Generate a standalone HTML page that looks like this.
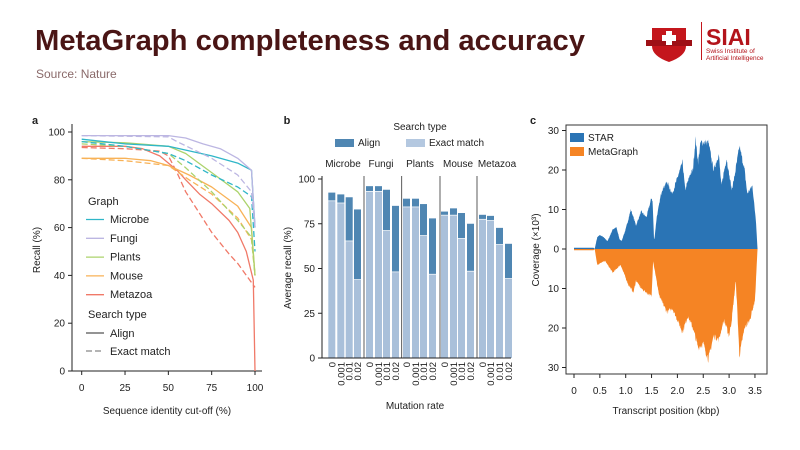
<!DOCTYPE html>
<html><head><meta charset="utf-8"><style>
html,body{margin:0;padding:0;background:#fff;width:800px;height:450px;overflow:hidden}
svg{display:block;font-family:"Liberation Sans",Arial,sans-serif}
</style></head><body>
<svg id="s" width="800" height="450" viewBox="0 0 800 450" xmlns="http://www.w3.org/2000/svg">
<text x="35" y="50" font-size="29" font-weight="bold" fill="#4a1515" textLength="550" lengthAdjust="spacingAndGlyphs">MetaGraph completeness and accuracy</text>
<text x="36" y="78" font-size="12" fill="#8a6a6a">Source: Nature</text>
<path d="M652 28 L686 28 L686 46 Q686 56 669 62 Q652 56 652 46 Z" fill="#c4161c"/>
<rect x="646" y="40" width="46" height="6" fill="#9e1016"/>
<rect x="666" y="31" width="6" height="14" fill="#fff"/><rect x="662" y="35" width="14" height="6" fill="#fff"/>
<rect x="701" y="22" width="1" height="38" fill="#c4161c"/>
<text x="706" y="45" font-size="23" font-weight="bold" fill="#b3141b">SIAI</text>
<text x="706" y="53" font-size="6.5" fill="#b3141b">Swiss Institute of</text>
<text x="706" y="60" font-size="6.5" fill="#b3141b">Artificial Intelligence</text>
<g id="g"></g>
</svg>
<script>
(function(){
var g=document.getElementById('g'),h='';
function T(x,y,t,o){o=o||{};h+='<text x="'+x+'" y="'+y+'" font-size="'+(o.fs||10)+'" fill="'+(o.c||'#222')+'" text-anchor="'+(o.a||'middle')+'"'+(o.tr?' transform="'+o.tr+'"':'')+(o.b?' font-weight="bold"':'')+'>'+t+'</text>';}
function L(x1,y1,x2,y2,c,w,d){h+='<line x1="'+x1+'" y1="'+y1+'" x2="'+x2+'" y2="'+y2+'" stroke="'+(c||'#222')+'" stroke-width="'+(w||1)+'"'+(d?' stroke-dasharray="'+d+'"':'')+'/>';}
// ---- panel a
T(35,124,'a',{b:1,fs:11});
var X=function(v){return 81.7+v*1.733},Y=function(r){return 371-r*2.39};
L(72,124,72,371);L(72,371,262,371);
[0,20,40,60,80,100].forEach(function(r){L(68,Y(r),72,Y(r));T(65,Y(r)+3.5,r,{a:'end'});});
[0,25,50,75,100].forEach(function(v){L(X(v),371,X(v),375);T(X(v),391,v);});
T(167,414,'Sequence identity cut-off (%)');
T(40,250,'Recall (%)',{tr:'rotate(-90 40 250)'});
var cols={Mi:'#2fb6c8',F:'#bcb6e2',P:'#acd36c',Mo:'#f8b257',Me:'#f07968'};
var cur=[
['Me',0,[[0,94],[25,94],[35,93],[45,90],[55,84],[60,80],[68,74],[75,70],[85,63],[90,58],[95,50],[99,38],[100,0]]],
['Me',1,[[0,93.5],[25,93],[45,92],[50,90],[55,83],[60,75],[68,66],[75,58],[85,49],[90,45],[100,35]]],
['Mo',0,[[0,89],[25,89],[40,88],[50,86],[62,82],[75,77],[90,69],[98,60],[100,40]]],
['Mo',1,[[0,89],[25,88],[50,86],[62,80],[75,74],[90,64],[98,55],[100,40]]],
['P',1,[[0,95],[25,94],[50,91],[60,85],[75,75],[90,63],[98,56],[100,40]]],
['P',0,[[0,96],[25,95.5],[50,94],[60,91],[75,83],[90,75],[97,68],[100,40]]],
['Mi',1,[[0,96],[25,94],[50,91],[60,88],[75,82],[90,77],[98,73],[100,50]]],
['Mi',0,[[0,97],[25,95],[50,94],[75,90],[90,87],[98,84],[100,60]]],
['F',1,[[0,98.5],[50,98],[55,96],[75,89],[90,82],[98,75],[100,60]]],
['F',0,[[0,98.5],[50,98.5],[60,97.5],[70,95],[80,93],[90,89],[98,84],[100,60]]]];
cur.forEach(function(c){var p=c[2].map(function(q){return X(q[0]).toFixed(1)+','+Y(q[1]).toFixed(1)}).join(' ');
h+='<polyline points="'+p+'" fill="none" stroke="'+cols[c[0]]+'" stroke-width="1.3" stroke-linejoin="round"'+(c[1]?' stroke-dasharray="6,3"':'')+'/>';});
T(88,205,'Graph',{a:'start',fs:11});
[['Mi','Microbe'],['F','Fungi'],['P','Plants'],['Mo','Mouse'],['Me','Metazoa']].forEach(function(e,i){var y=223+i*18.8;L(86,y-3.5,104,y-3.5,cols[e[0]],1.3);T(110,y,e[1],{a:'start',fs:11});});
T(88,318,'Search type',{a:'start',fs:11});
L(86,333,104,333,'#555',1.2);T(110,337,'Align',{a:'start',fs:11});
L(86,351,104,351,'#888',1.2,'6,3');T(110,355,'Exact match',{a:'start',fs:11});
// ---- panel b
T(287,124,'b',{b:1,fs:11});
var YB=function(v){return 358-v*1.79};
T(420,130,'Search type');
h+='<rect x="335" y="139" width="19" height="8" fill="#4f86b2"/>';T(358,146,'Align',{a:'start'});
h+='<rect x="406" y="139" width="19" height="8" fill="#b4c8e0"/>';T(429,146,'Exact match',{a:'start'});
var grp=[['Microbe',[328.3,337.3,345.7,354],[[92.4,88],[91.4,86.8],[89.8,65.6],[83,44]],343],
['Fungi',[366,375,383,392],[[96,93.3],[96,93.3],[94,71.4],[85,48.3]],381],
['Plants',[403,412,420,429],[[89,84.6],[89,84.6],[86,68.6],[78,47]],420],
['Mouse',[441,450,458,467],[[81.8,80],[83.6,80],[81,67],[75,48.7]],458],
['Metazoa',[479,487,496,505],[[80,77.7],[79.4,77],[72.7,63.6],[63.8,44.6]],497]];
var labs=['0','0.001','0.01','0.02'];
grp.forEach(function(gq){T(gq[3],167,gq[0]);gq[1].forEach(function(x,i){var a=gq[2][i][0],e=gq[2][i][1];
h+='<rect x="'+x+'" y="'+YB(a)+'" width="7" height="'+(YB(e)-YB(a))+'" fill="#4f86b2"/>';
h+='<rect x="'+x+'" y="'+(YB(e)+0.7)+'" width="7" height="'+(358-YB(e)-0.7)+'" fill="#a9c0da"/>';
T(x+7,362,labs[i],{a:'end',fs:9.5,tr:'rotate(-90 '+(x+7)+' 362)'});});});
[364,401.7,440,477].forEach(function(x){L(x,176,x,358,'#333',0.8);});
L(322,176,322,358);L(322,358,511,358);
[0,25,50,75,100].forEach(function(v){L(318,YB(v),322,YB(v));T(315,YB(v)+3.5,v,{a:'end'});});
T(415,409,'Mutation rate');
T(291,268,'Average recall (%)',{tr:'rotate(-90 291 268)'});
// ---- panel c
T(533,124,'c',{b:1,fs:11});
var XC=function(p){return 574+p*51.7},YC=function(v){return 249-v*3.95};
var seed=7;function rnd(){seed=(seed*16807)%2147483647;return seed/2147483647;}
function prof(pts){var out=[];for(var p=0;p<=3.55;p+=0.006){var i=0;while(i<pts.length-2&&pts[i+1][0]<p)i++;var a=pts[i],b=pts[i+1];var t=Math.min(1,Math.max(0,(p-a[0])/(b[0]-a[0])));var v=a[1]+(b[1]-a[1])*t;if(Math.abs(v)>1.5)v+=(rnd()-0.5)*Math.abs(v)*0.07;out.push(XC(p).toFixed(1)+','+YC(v).toFixed(1));}
return 'M'+XC(0)+','+YC(0)+' L'+out.join(' L')+' L'+XC(3.55)+','+YC(0)+'Z';}
var upPts=[[0,0.3],[0.38,0.3],[0.4,0],[0.45,3],[0.5,3.5],[0.55,3.2],[0.65,2],[0.75,5],[0.82,5.5],[0.88,2.5],[0.92,2],[1.0,5],[1.1,10],[1.2,6],[1.3,9.5],[1.4,8],[1.5,13],[1.52,12],[1.55,2],[1.6,8],[1.7,15],[1.8,17],[1.9,14],[2.0,18],[2.1,22],[2.15,15],[2.25,19],[2.3,20],[2.35,28],[2.4,22],[2.45,27],[2.6,27],[2.7,20],[2.8,24],[2.85,16],[2.95,23],[3.05,15],[3.1,18],[3.2,26],[3.3,20],[3.35,14],[3.45,16],[3.52,7],[3.55,0]];
var dnPts=[[0,-0.3],[0.38,-0.3],[0.4,0],[0.45,-4],[0.6,-3],[0.75,-6],[0.9,-4],[1.05,-9],[1.15,-11],[1.2,-8],[1.3,-10],[1.5,-12],[1.53,-3],[1.65,-12],[1.8,-16],[1.9,-15],[2.0,-18],[2.1,-21],[2.2,-17],[2.3,-20],[2.4,-25],[2.5,-24],[2.6,-28],[2.7,-22],[2.8,-23],[2.9,-18],[3.0,-22],[3.05,-18],[3.13,-8],[3.2,-27],[3.3,-20],[3.4,-18],[3.5,-13],[3.55,0]];
h+='<path d="'+prof(upPts)+'" fill="#2a74b5"/>';h+='<path d="'+prof(dnPts)+'" fill="#f58424"/>';
h+='<rect x="566" y="125" width="201" height="249" fill="none" stroke="#333" stroke-width="1"/>';
[[30,'30'],[20,'20'],[10,'10'],[0,'0'],[-10,'10'],[-20,'20'],[-30,'30']].forEach(function(q){L(562,YC(q[0]),566,YC(q[0]));T(559,YC(q[0])+3.5,q[1],{a:'end'});});
[0,0.5,1,1.5,2,2.5,3,3.5].forEach(function(p){L(XC(p),374,XC(p),378);T(XC(p),394,p==0?'0':p.toFixed(1));});
T(666,414,'Transcript position (kbp)');
T(539,250,'Coverage (×10³)',{tr:'rotate(-90 539 250)'});
h+='<rect x="570" y="133" width="14" height="9" fill="#2a74b5"/>';T(588,141,'STAR',{a:'start'});
h+='<rect x="570" y="147" width="14" height="9" fill="#f58424"/>';T(588,155,'MetaGraph',{a:'start'});
g.innerHTML=h;
})();
</script>
</body></html>
